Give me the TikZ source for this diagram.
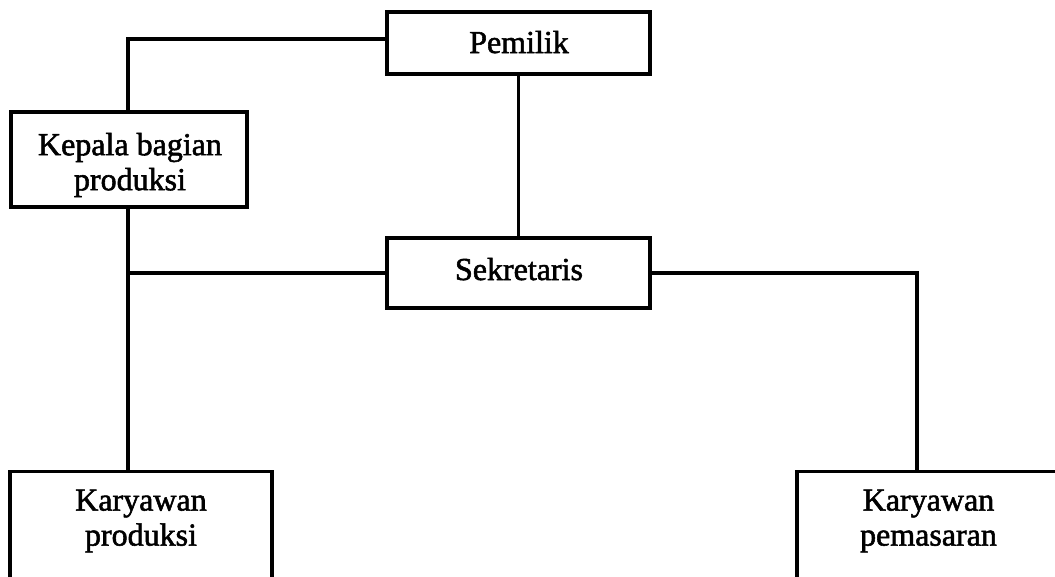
\documentclass[tikz,border=0pt]{standalone}
\usepackage{fontspec}
\setmainfont{Liberation Serif}[BoldFont={Liberation Serif}, BoldFeatures={FakeBold=1.7}]
\begin{document}
\begin{tikzpicture}[x=1pt,y=-1pt,
  box/.style={draw, line width=3.3pt, inner sep=0pt, minimum width=#1},
  txt/.style={font=\fontsize{32}{35}\selectfont\bfseries, align=center, inner sep=0pt},
  conn/.style={line width=3.3pt}]
\useasboundingbox (0,0) rectangle (1055,576);
\clip (0,0) rectangle (1055,576);
% boxes
\node[box=263pt, minimum height=62pt] (pemilik) at (518.5,43) {};
\node[box=236pt, minimum height=95pt] (kepala) at (129,159.5) {};
\node[box=263pt, minimum height=70pt] (sekretaris) at (518.5,273) {};
\node[box=262pt, minimum height=140pt, anchor=north] (kprod) at (141,470) {};
\node[box=263pt, minimum height=140pt, anchor=north] (kpem) at (928.5,470) {};
% texts
\node[txt, anchor=base] (tpemilik) at (519,53) {Pemilik};
\node[txt] (tkepala) at (130,165) {Kepala bagian\\produksi};
\node[txt, anchor=base] (tsekretaris) at (519,280) {Sekretaris};
\node[txt] (tkprod) at (141,521) {Karyawan\\produksi};
\node[txt] (tkpem) at (928.5,521) {Karyawan\\pemasaran};
% connectors
\coordinate (lc) at (128,39);
\coordinate (rc) at (917,273);
\draw[conn] (pemilik.west |- lc) -- (lc) -- (lc |- kepala.north);
\draw[conn] (pemilik.south) -- (sekretaris.north);
\draw[conn] (lc |- kepala.south) -- (lc |- kprod.north);
\draw[conn] (sekretaris.west) -- (sekretaris.west -| lc);
\draw[conn] (sekretaris.east) -- (rc) -- (rc |- kpem.north);
\end{tikzpicture}
\end{document}
